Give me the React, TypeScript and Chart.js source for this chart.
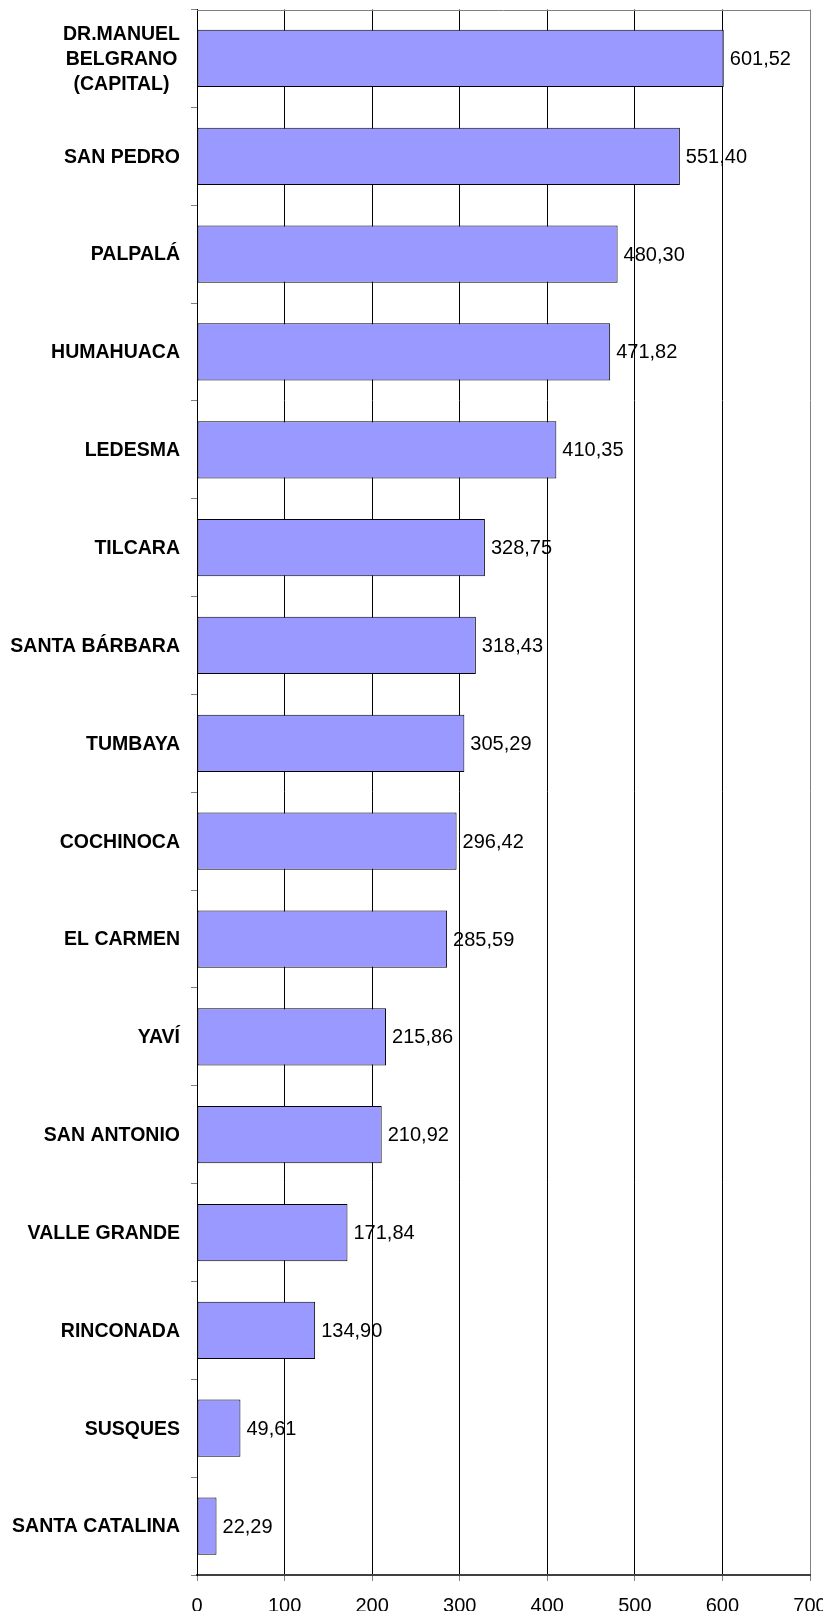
import React, { useEffect, useRef } from "react";
import { Chart, registerables } from "chart.js";

Chart.register(...registerables);

const categories: string[][] = [
  ["DR.MANUEL", "BELGRANO", "(CAPITAL)"],
  ["SAN PEDRO"],
  ["PALPALÁ"],
  ["HUMAHUACA"],
  ["LEDESMA"],
  ["TILCARA"],
  ["SANTA BÁRBARA"],
  ["TUMBAYA"],
  ["COCHINOCA"],
  ["EL CARMEN"],
  ["YAVÍ"],
  ["SAN ANTONIO"],
  ["VALLE GRANDE"],
  ["RINCONADA"],
  ["SUSQUES"],
  ["SANTA CATALINA"],
];

const values: number[] = [
  601.52, 551.4, 480.3, 471.82, 410.35, 328.75, 318.43, 305.29, 296.42,
  285.59, 215.86, 210.92, 171.84, 134.9, 49.61, 22.29,
];

const xTicks: number[] = [0, 100, 200, 300, 400, 500, 600, 700];

const FONT = "Arial, 'Liberation Sans', sans-serif";

const fmt = (v: number) => v.toFixed(2).replace(".", ",");

const labelPlugin = {
  id: "customLabels",
  afterDatasetsDraw(chart: any) {
    const ctx = chart.ctx;
    const meta = chart.getDatasetMeta(0);
    ctx.save();
    ctx.font = `20px ${FONT}`;
    ctx.fillStyle = "#000";
    ctx.textAlign = "left";
    ctx.textBaseline = "middle";
    meta.data.forEach((bar: any, i: number) => {
      ctx.fillText(fmt(values[i]), bar.x + 6, bar.y + 1);
    });
    ctx.restore();
  },
  afterDraw(chart: any) {
    const ctx = chart.ctx;
    const area = chart.chartArea;
    const yScale = chart.scales.y;
    ctx.save();
    ctx.strokeStyle = "#808080";
    ctx.lineWidth = 1;
    ctx.beginPath();
    ctx.moveTo(area.left, Math.round(area.top) + 0.5);
    ctx.lineTo(area.right, Math.round(area.top) + 0.5);
    ctx.stroke();
    ctx.font = `bold 19.5px ${FONT}`;
    ctx.fillStyle = "#000";
    ctx.textAlign = "center";
    ctx.textBaseline = "middle";
    const rightEdge = 172;
    const lh = 25;
    categories.forEach((lines, i) => {
      const yc = yScale.getPixelForValue(i);
      const maxW = Math.max(...lines.map((l) => ctx.measureText(l).width));
      const cx = rightEdge - maxW / 2;
      const start = yc - ((lines.length - 1) * lh) / 2;
      lines.forEach((l, j) => {
        ctx.fillText(l, cx, start + j * lh + 1);
      });
    });
    ctx.restore();
  },
};

export default function App() {
  const ref = useRef<HTMLCanvasElement | null>(null);

  useEffect(() => {
    if (!ref.current) return;
    const chart = new Chart(ref.current, {
      type: "bar",
      data: {
        labels: categories.map((c) => c.join(" ")),
        datasets: [
          {
            data: values,
            backgroundColor: "#9999FF",
            borderColor: "#000000",
            borderWidth: 1,
            borderSkipped: false,
            barPercentage: 0.585,
            categoryPercentage: 1,
          },
        ],
      },
      options: {
        indexAxis: "y",
        animation: false,
        responsive: true,
        maintainAspectRatio: false,
        layout: { padding: { top: 1.5, right: 21, bottom: 0, left: 0 } },
        plugins: {
          legend: { display: false },
          tooltip: { enabled: false },
        },
        scales: {
          x: {
            type: "linear",
            min: 0,
            max: 700,
            afterBuildTicks: (scale: any) => {
              scale.ticks = xTicks.map((v) => ({ value: v }));
            },
            afterFit: (scale: any) => {
              scale.height = 44;
              scale.paddingRight = 0;
              scale.paddingLeft = 0;
            },
            ticks: {
              color: "#000",
              font: { family: FONT, size: 20 },
              padding: 13,
              maxRotation: 0,
            },
            grid: {
              color: (c: any) => (c.tick && c.tick.value === 700 ? "#808080" : "#000000"),
              tickColor: "#808080",
              tickLength: 6,
              lineWidth: 1,
            },
            border: { color: "#404040", width: 2 },
          },
          y: {
            afterFit: (scale: any) => {
              scale.width = 189;
            },
            ticks: { display: false },
            grid: {
              drawOnChartArea: false,
              offset: true,
              tickLength: 6,
              color: "#808080",
            },
            border: { color: "#000000", width: 1 },
          },
        },
      },
      plugins: [labelPlugin],
    });
    return () => chart.destroy();
  }, []);

  return (
    <div style={{ width: 815, height: 1603, position: "relative" }}>
      <div style={{ position: "absolute", left: 0, top: 0, width: 823, height: 1611 }}>
        <canvas ref={ref} />
      </div>
    </div>
  );
}
